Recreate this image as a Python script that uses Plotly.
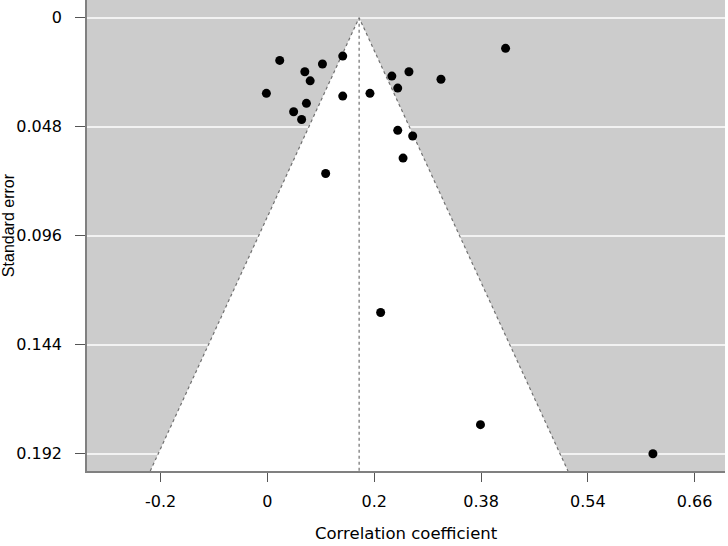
import plotly.graph_objects as go

# Fisher z-transformed correlation coefficients and their standard errors
fisher_z = [0.023, 0.103, 0.141, 0.070, 0.080, -0.002, 0.073, 0.049, 0.064,
            0.141, 0.192, 0.233, 0.265, 0.244, 0.325, 0.244, 0.272, 0.254,
            0.109, 0.446, 0.212, 0.399, 0.722]
std_err = [0.0188, 0.0204, 0.0169, 0.0238, 0.0278, 0.0333, 0.0377, 0.0414, 0.0448,
           0.0345, 0.0333, 0.0257, 0.0238, 0.0310, 0.0271, 0.0496, 0.0521, 0.0618,
           0.0686, 0.0135, 0.1298, 0.1792, 0.1920]
summary_z = 0.1717

x_tickvals = [-0.2, 0, 0.2, 0.4, 0.6, 0.8]
x_ticktext = ["-0.2", "0", "0.2", "0.38", "0.54", "0.66"]
y_tickvals = [0, 0.048, 0.096, 0.144, 0.192]
y_ticktext = ["0", "0.048", "0.096", "0.144", "0.192"]

x_range = [-0.338, 0.857]
y_range = [0.1996, -0.0078]
se_max = y_range[0]

fig = go.Figure()
# white funnel region
fig.add_trace(go.Scatter(
    x=[summary_z - 1.96 * se_max, summary_z, summary_z + 1.96 * se_max],
    y=[se_max, 0, se_max], fill="toself", fillcolor="white",
    mode="none", hoverinfo="skip", showlegend=False))
# funnel edges
fig.add_trace(go.Scatter(
    x=[summary_z - 1.96 * se_max, summary_z, summary_z + 1.96 * se_max],
    y=[se_max, 0, se_max], mode="lines",
    line=dict(color="#707070", width=1.2, dash="dot"),
    hoverinfo="skip", showlegend=False))
# vertical summary line
fig.add_trace(go.Scatter(
    x=[summary_z, summary_z], y=[0, se_max], mode="lines",
    line=dict(color="#707070", width=1.2, dash="dot"),
    hoverinfo="skip", showlegend=False))
# studies
fig.add_trace(go.Scatter(
    x=fisher_z, y=std_err, mode="markers",
    marker=dict(color="black", size=9, symbol="circle"),
    showlegend=False))

tickfont = dict(family="DejaVu Sans, sans-serif", size=16, color="black")
fig.update_layout(
    width=728, height=546,
    margin=dict(l=87, r=3, t=0, b=75),
    paper_bgcolor="white", plot_bgcolor="#cccccc",
    font=dict(family="DejaVu Sans, sans-serif", size=16, color="black"),
    xaxis=dict(range=x_range, tickvals=x_tickvals, ticktext=x_ticktext,
               showgrid=False, zeroline=False, showline=True, linecolor="#808080",
               linewidth=1.5, ticks="outside", ticklen=9, tickcolor="#555555",
               tickfont=tickfont, ticklabelstandoff=6),
    yaxis=dict(range=y_range, tickvals=y_tickvals, ticktext=y_ticktext,
               showgrid=True, gridcolor="#f2f2f2", gridwidth=1.5, zeroline=False,
               showline=True, linecolor="#808080", linewidth=1.5,
               ticks="outside", ticklen=10, tickcolor="#555555",
               tickfont=tickfont, ticklabelstandoff=10),
    annotations=[
        dict(text="Correlation coefficient", xref="paper", yref="paper",
             x=0.5, y=-0.158, xanchor="center", yanchor="bottom",
             showarrow=False,
             font=dict(family="DejaVu Sans, sans-serif", size=16.5, color="black")),
        dict(text="Standard error", xref="paper", yref="paper",
             x=-0.123, y=0.521, xanchor="center", yanchor="middle",
             textangle=-90, showarrow=False,
             font=dict(family="Liberation Sans, Arial, sans-serif", size=16, color="black")),
    ],
)

fig.write_html("out.html")
